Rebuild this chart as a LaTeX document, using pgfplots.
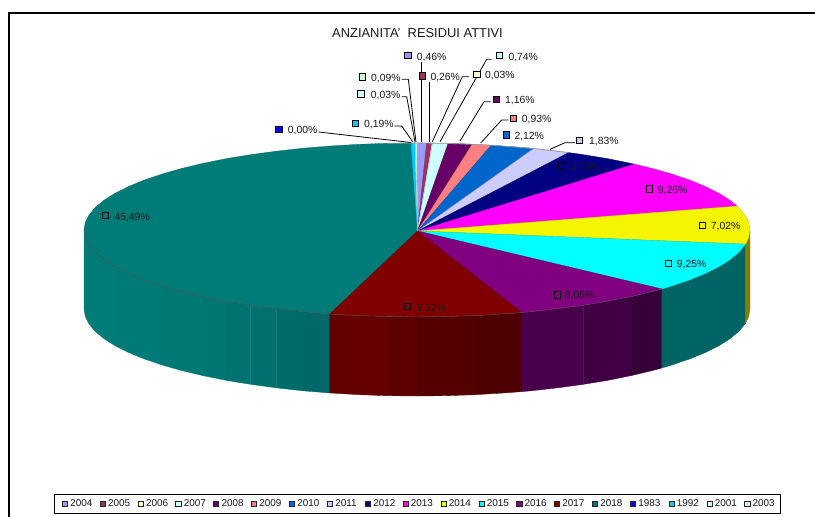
\documentclass[border=0pt]{standalone}
\usepackage{fontspec}
\setmainfont{Liberation Sans}
\usepackage{pgfplots}
\pgfplotsset{compat=1.18}

% palette, one colour per year
\definecolor{c2004}{RGB}{153,153,255}
\definecolor{c2005}{RGB}{153,51,102}
\definecolor{c2006}{RGB}{255,255,204}
\definecolor{c2007}{RGB}{204,255,255}
\definecolor{c2008}{RGB}{102,0,102}
\definecolor{c2009}{RGB}{255,128,128}
\definecolor{c2010}{RGB}{0,102,204}
\definecolor{c2011}{RGB}{204,204,255}
\definecolor{c2012}{RGB}{0,0,128}
\definecolor{c2013}{RGB}{255,0,255}
\definecolor{c2014}{RGB}{245,245,0}
\definecolor{c2015}{RGB}{0,255,255}
\definecolor{c2016}{RGB}{128,0,128}
\definecolor{c2017}{RGB}{128,0,0}
\definecolor{c2018}{RGB}{0,124,120}
\definecolor{c1983}{RGB}{0,0,255}
\definecolor{c1992}{RGB}{0,204,255}
\definecolor{c2001}{RGB}{204,255,255}
\definecolor{c2003}{RGB}{204,255,204}
\definecolor{txt}{RGB}{25,25,25}

\newcommand{\face}[2]{\addplot[fill=#1, draw=black!22!#1, line width=.3pt, line join=round] coordinates {(417.5,231) #2} --cycle;}
\newcommand{\side}[2]{\addplot[fill={rgb,255:#1}, draw={rgb,255:#1}, line width=.35pt, line join=round] coordinates {#2} --cycle;}
\newcommand{\lead}[1]{\addplot[black, line width=.8pt] coordinates {#1};}
\newcommand{\key}[2]{\addplot[only marks, mark=square*, mark size=3.2pt, mark options={fill=#1, draw=black, line width=.95pt}] coordinates {#2};}
\newcommand{\leg}[3]{\addplot[only marks, mark=square*, mark size=2.6pt, mark options={fill=#1, draw=black!85, line width=.7pt}] coordinates {(#2,503.5)};
  \node[anchor=west, inner sep=0pt, text=txt, font=\fontsize{9.9}{11}\selectfont] at (axis cs:#2+5.2,503.5) {#3};}
\newcommand{\lab}[3]{\node[anchor=west, inner sep=0pt, text=txt, font=\fontsize{10.4}{12}\selectfont] at (axis cs:#1,#2) {#3};}

\begin{document}
\begin{tikzpicture}
\begin{axis}[
    width=815pt, height=517pt, scale only axis,
    xmin=0, xmax=815, ymin=0, ymax=517,
    y dir=reverse,
    hide axis,
    clip=true,
  ]
  % page ground
  \addplot[fill=white, draw=none] coordinates {(0,0) (815,0) (815,517) (0,517)} --cycle;
  % outer frame, cut off at right and bottom
  \addplot[black, line width=2.3pt] coordinates {(9.3,517) (9.3,13.3) (815,13.3)};

  % side wall, in narrow strips for the shading
  \side{red,0;green,104;blue,102}{(329.8,314) (303.1,311.8) (303.1,390.8) (329.8,393)}
  \side{red,0;green,108;blue,106}{(303.1,311.8) (276.3,308.8) (276.3,387.8) (303.1,390.8)}
  \side{red,0;green,112;blue,109}{(276.3,308.8) (250.5,305.3) (250.5,384.3) (276.3,387.8)}
  \side{red,0;green,115;blue,112}{(250.5,305.3) (226,301.3) (226,380.3) (250.5,384.3)}
  \side{red,0;green,118;blue,114}{(226,301.3) (202.9,296.6) (202.9,375.6) (226,380.3)}
  \side{red,0;green,120;blue,116}{(202.9,296.6) (181.5,291.5) (161.9,285.9) (161.9,364.9) (181.5,370.5) (202.9,375.6)}
  \side{red,0;green,122;blue,118}{(161.9,285.9) (144.2,279.9) (128.6,273.5) (115.2,266.8) (115.2,345.8) (128.6,352.5) (144.2,358.9) (161.9,364.9)}
  \side{red,0;green,124;blue,120}{(115.2,266.8) (104.1,259.8) (95.3,252.5) (89.1,245.1) (85.3,237.6) (84,230) (84,309) (85.3,316.6) (89.1,324.1) (95.3,331.5) (104.1,338.8) (115.2,345.8)}
  \side{red,78;green,0;blue,0}{(521.9,312.6) (503.2,314) (474.8,315.7) (474.8,394.7) (503.2,393) (521.9,391.6)}
  \side{red,84;green,0;blue,0}{(474.8,315.7) (446,316.7) (417,317) (417,396) (446,395.7) (474.8,394.7)}
  \side{red,92;green,0;blue,0}{(417,317) (388,316.7) (388,395.7) (417,396)}
  \side{red,100;green,0;blue,0}{(388,316.7) (359.2,315.7) (330.8,314) (329.8,314) (329.8,393) (330.8,393) (359.2,394.7) (388,395.7)}
  \side{red,72;green,0;blue,76}{(583.5,305.3) (557.7,308.8) (530.9,311.8) (521.9,312.6) (521.9,391.6) (530.9,390.8) (557.7,387.8) (583.5,384.3)}
  \side{red,64;green,0;blue,67}{(631.1,296.6) (608,301.3) (583.5,305.3) (583.5,384.3) (608,380.3) (631.1,375.6)}
  \side{red,54;green,0;blue,56}{(661.9,289) (652.5,291.5) (631.1,296.6) (631.1,375.6) (652.5,370.5) (661.9,368)}
  \side{red,0;green,100;blue,100}{(745.6,244.1) (744.9,245.1) (738.7,252.5) (729.9,259.8) (718.8,266.8) (705.4,273.5) (689.8,279.9) (672.1,285.9) (661.9,289) (661.9,368) (672.1,364.9) (689.8,358.9) (705.4,352.5) (718.8,345.8) (729.9,338.8) (738.7,331.5) (744.9,324.1) (745.6,323.1)}
  \side{red,128;green,128;blue,0}{(750,230) (748.7,237.6) (745.6,244.1) (745.6,323.1) (748.7,316.6) (750,309)}

  % top face, clockwise from 12 o'clock
  \face{c2018}{(329.8,314) (303.1,311.8) (276.3,308.8) (250.5,305.3) (226,301.3) (202.9,296.6) (181.5,291.5) (161.9,285.9) (144.2,279.9) (128.6,273.5) (115.2,266.8) (104.1,259.8) (95.3,252.5) (89.1,245.1) (85.3,237.6) (84,230) (85.3,222.4) (89.1,214.9) (95.3,207.5) (104.1,200.2) (115.2,193.2) (128.6,186.5) (144.2,180.1) (161.9,174.1) (181.5,168.5) (202.9,163.4) (226,158.7) (250.5,154.7) (276.3,151.2) (303.1,148.2) (330.8,146) (359.2,144.3) (388,143.3) (410.9,143)}
  \face{c2004}{(417,143) (426.6,143)}
  \face{c2005}{(426.6,143) (432.1,143.1)}
  \face{c2006}{(432.1,143.1) (432.7,143.1)}
  \face{c2007}{(432.7,143.1) (448.1,143.4)}
  \face{c2008}{(448.1,143.4) (472.2,144.2)}
  \face{c2009}{(472.2,144.2) (491.3,145.2)}
  \face{c2010}{(491.3,145.2) (511.6,146.6) (533.7,148.5)}
  \face{c2011}{(533.7,148.5) (552.4,150.5) (568.7,152.6)}
  \face{c2012}{(568.7,152.6) (583.5,154.7) (608,158.7) (631.1,163.4) (634.4,164.1)}
  \face{c2013}{(634.4,164.1) (652.5,168.5) (672.1,174.1) (689.8,180.1) (705.4,186.5) (718.8,193.2) (729.9,200.2) (737.2,206.1)}
  \face{c2014}{(737.2,206.1) (738.6,207.5) (744.9,214.9) (748.7,222.4) (750,230) (748.7,237.6) (745.6,244.1)}
  \face{c2015}{(745.6,244.1) (744.9,245.1) (738.7,252.5) (729.9,259.8) (718.8,266.8) (705.4,273.5) (689.8,279.9) (672.1,285.9) (661.9,289)}
  \face{c2016}{(661.9,289) (652.5,291.5) (631.1,296.6) (608,301.3) (583.5,305.3) (557.7,308.8) (530.9,311.8) (521.9,312.6)}
  \face{c2017}{(521.9,312.6) (503.2,314) (474.8,315.7) (446,316.7) (417,317) (388,316.7) (359.2,315.7) (330.8,314) (329.8,314)}
  \face{c1992}{(410.9,143) (414.9,143)}
  \face{c2001}{(414.9,143) (415.5,143)}
  \face{c2003}{(415.5,143) (417,143)}
  % grey back rim, dark front rim
  \addplot[black!40, line width=.7pt] coordinates {(388,143.3) (417,143) (448.1,143.4) (491.3,145.2) (533.7,148.5) (568.7,152.6)};
  \addplot[black!65, line width=.35pt] coordinates {(661.9,289) (631.1,296.6) (583.5,305.3) (521.9,312.6) (474.8,315.7) (417,317) (359.2,315.7) (329.8,314) (276.3,308.8) (226,301.3) (181.5,291.5) (144.2,279.9) (115.2,266.8) (95.3,252.5) (85.3,237.6) (84,230)};

  % leader lines
  \lead{(318.5,132) (411,142.5)}
  \lead{(394.3,126) (401.7,126) (412.7,141.7)}
  \lead{(401.7,96.7) (406.7,96.7) (415,142)}
  \lead{(401.7,79.3) (408.3,79.3) (416,142)}
  \lead{(421.7,61.7) (421.7,142)}
  \lead{(429,81.7) (429,141.7)}
  \lead{(469,76.7) (462.3,76.7) (432.3,141.7)}
  \lead{(491.7,59.3) (486.7,59.3) (440,141.7)}
  \lead{(490.7,101.7) (484,101.7) (460,141)}
  \lead{(508.3,120) (501.7,120) (480.7,143)}
  \lead{(575,142.7) (565,142.7) (550,149.3)}

  % data labels
  \key{c1983}{(279,129.3)}   \lab{287.7}{131}{0,00\%}
  \key{c1992}{(355.3,123.7)} \lab{364}{125}{0,19\%}
  \key{c2001}{(361,94)}      \lab{370.7}{95.5}{0,03\%}
  \key{c2003}{(362.7,77)}    \lab{371}{78.5}{0,09\%}
  \key{c2004}{(408,55.7)}    \lab{416.7}{57.5}{0,46\%}
  \key{c2005}{(422.3,76)}    \lab{430.3}{77.5}{0,26\%}
  \key{c2006}{(477,74.3)}    \lab{485}{75.5}{0,03\%}
  \key{c2007}{(499.7,55.7)}  \lab{508.3}{57.5}{0,74\%}
  \key{c2008}{(496.3,99.3)}  \lab{505}{100.5}{1,16\%}
  \key{c2009}{(513.7,118.3)} \lab{521.7}{119.5}{0,93\%}
  \key{c2010}{(506.3,135)}   \lab{514.3}{136.5}{2,12\%}
  \key{c2011}{(579.7,140.7)} \lab{589}{142}{1,83\%}
  \key{c2012}{(562,165.7)}   \lab{570.7}{167.5}{3,79\%}
  \key{c2013}{(649.3,189)}   \lab{657.7}{190.5}{9,26\%}
  \key{c2014}{(702.3,225.3)} \lab{710.7}{226.5}{7,02\%}
  \key{c2015}{(668.3,263.7)} \lab{676.7}{265}{9,25\%}
  \key{c2016}{(557.3,295)}   \lab{564.7}{296}{8,05\%}
  \key{c2017}{(407.7,306.7)} \lab{416.3}{308.5}{9,32\%}
  \key{c2018}{(105.7,215.7)} \lab{114.3}{217.5}{45,49\%}

  \node[anchor=west, inner sep=0pt, text=txt, font=\fontsize{12.9}{14}\selectfont] at (axis cs:332,33) {ANZIANITA'\ \ RESIDUI ATTIVI};

  % legend strip
  \addplot[fill=white, draw=black, line width=1pt] coordinates {(54,494) (780,494) (780,513) (54,513)} --cycle;
  \leg{c2004}{65}{2004}
  \leg{c2005}{102.8}{2005}
  \leg{c2006}{140.6}{2006}
  \leg{c2007}{178.4}{2007}
  \leg{c2008}{216.2}{2008}
  \leg{c2009}{254}{2009}
  \leg{c2010}{292}{2010}
  \leg{c2011}{330}{2011}
  \leg{c2012}{368}{2012}
  \leg{c2013}{405.5}{2013}
  \leg{c2014}{443.5}{2014}
  \leg{c2015}{481.5}{2015}
  \leg{c2016}{519.3}{2016}
  \leg{c2017}{557}{2017}
  \leg{c2018}{595}{2018}
  \leg{c1983}{633}{1983}
  \leg{c1992}{671.5}{1992}
  \leg{c2001}{709.5}{2001}
  \leg{c2003}{747.3}{2003}
\end{axis}
\end{tikzpicture}
\end{document}
